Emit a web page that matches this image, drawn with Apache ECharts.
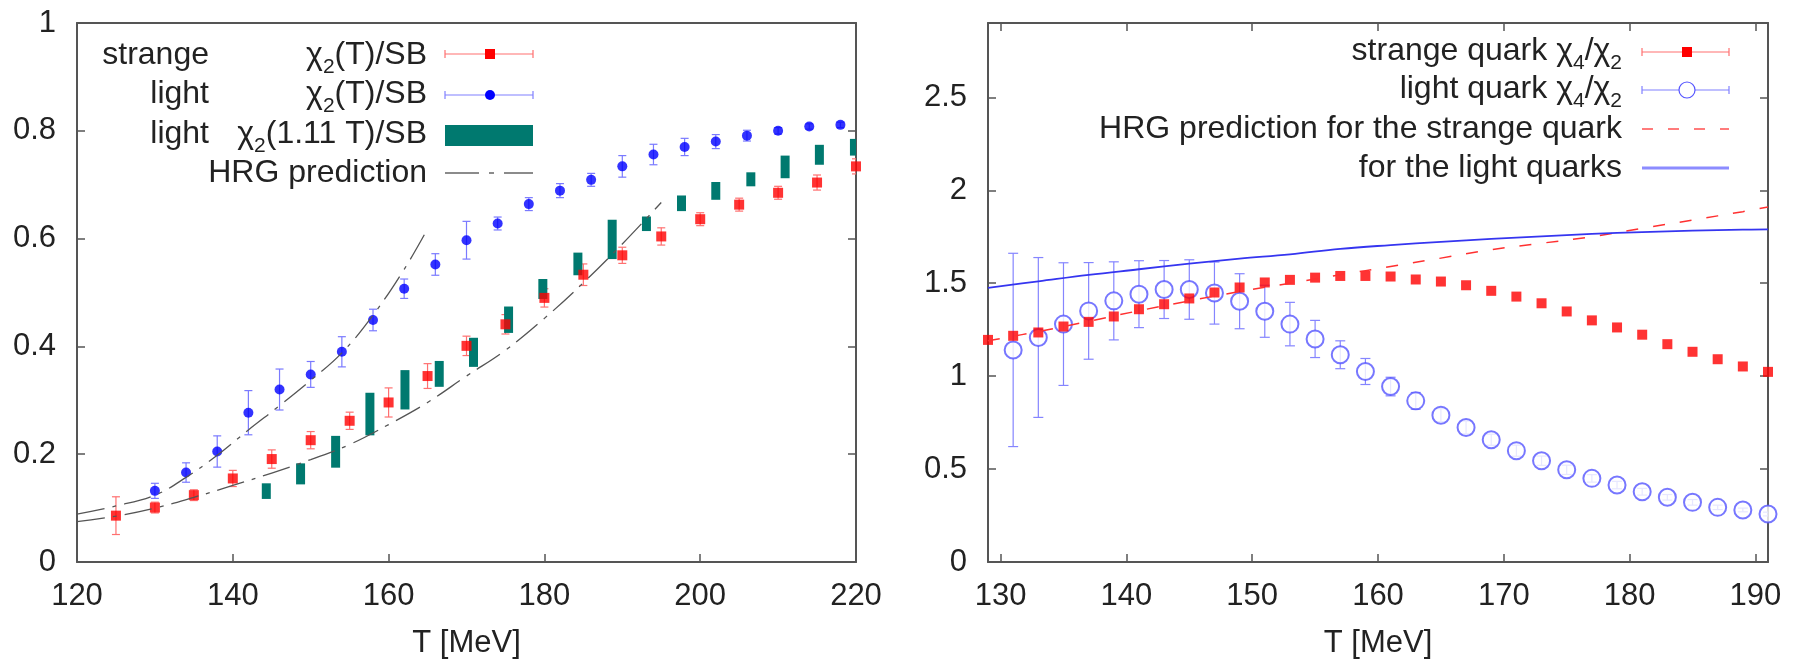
<!DOCTYPE html>
<html><head><meta charset="utf-8">
<script src="https://cdn.jsdelivr.net/npm/echarts@6/dist/echarts.min.js"></script>
<style>html,body{margin:0;padding:0;background:#fff}#c{width:1802px;height:664px}</style>
</head><body><div id="c"></div>
<script>
// ---------- Left panel: chi2/SB ----------
const strangeT = [125,130,135,140,145,150,155,160,165,170,175,180,185,190,195,200,205,210,215,220];
const strangeChi2 = [0.086,0.101,0.124,0.155,0.191,0.226,0.262,0.296,0.345,0.401,0.441,0.490,0.533,0.569,0.604,0.636,0.663,0.685,0.704,0.734];
const strangeChi2Err = [0.035,0.010,0.010,0.015,0.017,0.016,0.016,0.027,0.023,0.018,0.018,0.017,0.020,0.015,0.016,0.012,0.012,0.012,0.014,0.014];

const lightT = [130,134,138,142,146,150,154,158,162,166,170,174,178,182,186,190,194,198,202,206,210,214,218];
const lightChi2 = [0.132,0.166,0.205,0.277,0.320,0.348,0.390,0.449,0.507,0.552,0.597,0.628,0.664,0.689,0.709,0.734,0.756,0.770,0.780,0.791,0.800,0.808,0.811];
const lightChi2Err = [0.014,0.018,0.029,0.041,0.038,0.024,0.028,0.020,0.018,0.020,0.035,0.012,0.012,0.013,0.012,0.020,0.019,0.016,0.013,0.010,0.006,0.005,0.005];

const scaledT = [144.3,148.7,153.2,157.6,162.1,166.5,170.9,175.4,179.8,184.3,188.7,193.1,197.6,202.0,206.5,210.9,215.3,219.8];
const scaledLow = [0.117,0.144,0.175,0.235,0.283,0.325,0.362,0.425,0.488,0.532,0.562,0.614,0.651,0.672,0.697,0.712,0.737,0.754];
const scaledHigh = [0.146,0.183,0.234,0.314,0.356,0.373,0.416,0.474,0.525,0.574,0.635,0.641,0.680,0.705,0.723,0.754,0.774,0.785];

const hrgLightT = [120,125,130,134,138,142,146,150,154,158,162,165];
const hrgLight = [0.089,0.104,0.124,0.157,0.198,0.245,0.290,0.337,0.388,0.458,0.543,0.618];
const hrgStrangeT = [120,125,130,135,140,145,150,155,160,165,170,175,180,185,190,195];
const hrgStrange = [0.075,0.085,0.100,0.120,0.142,0.165,0.190,0.218,0.255,0.296,0.345,0.393,0.452,0.518,0.590,0.667];

const leftXTicks = [120,140,160,180,200,220];
const leftYTicks = [0,0.2,0.4,0.6,0.8,1];

// ---------- Right panel: chi4/chi2 ----------
const rStrangeT = [129,131,133,135,137,139,141,143,145,147,149,151,153,155,157,159,161,163,165,167,169,171,173,175,177,179,181,183,185,187,189,191];
const rStrange = [1.195,1.217,1.235,1.267,1.292,1.321,1.360,1.387,1.418,1.450,1.477,1.504,1.518,1.530,1.539,1.539,1.536,1.520,1.509,1.489,1.459,1.428,1.392,1.348,1.300,1.262,1.223,1.172,1.131,1.091,1.052,1.023];

const rLightT = [131,133,135,137,139,141,143,145,147,149,151,153,155,157,159,161,163,165,167,169,171,173,175,177,179,181,183,185,187,189,191];
const rLight = [1.141,1.208,1.280,1.351,1.405,1.441,1.466,1.466,1.447,1.403,1.349,1.280,1.200,1.115,1.025,0.944,0.867,0.790,0.724,0.658,0.599,0.545,0.496,0.450,0.414,0.378,0.348,0.321,0.294,0.280,0.258];
const rLightErr = [0.52,0.43,0.33,0.26,0.21,0.18,0.156,0.16,0.167,0.148,0.14,0.117,0.10,0.075,0.07,0.05,0.045,0.035,0.035,0.03,0.03,0.025,0.025,0.02,0.02,0.018,0.015,0.015,0.012,0.01,0.01];

const rHrgT = [129,133,137,141,145,149,153,157,161,165,169,173,177,181,185,189,191];
const rHrgStrange = [1.19,1.24,1.295,1.352,1.405,1.455,1.50,1.545,1.59,1.635,1.68,1.715,1.75,1.795,1.84,1.885,1.91];
const rHrgLight = [1.475,1.51,1.545,1.575,1.605,1.632,1.655,1.685,1.705,1.722,1.738,1.752,1.765,1.775,1.783,1.788,1.79];

const rightXTicks = [130,140,150,160,170,180,190];
const rightYTicks = [0,0.5,1,1.5,2,2.5];

// ---------- helpers ----------
const FONT = "'Liberation Sans', Arial, Helvetica, sans-serif";
const TXT = '#222';
const AX = '#555';
const zip2 = (a, b) => a.map((v, i) => [v, b[i]]);
const zip3 = (a, b, c) => a.map((v, i) => [v, b[i], c[i]]);

function mkX(gi, min, max, ticks, position, labels, ticksOn, name) {
  return {
    type: 'value', gridIndex: gi, min: min, max: max, position: position,
    axisLine: {show: true, onZero: false, lineStyle: {color: AX, width: 2}},
    axisTick: {show: ticksOn, inside: true, length: 8, customValues: ticks, lineStyle: {color: AX, width: 1.5}},
    axisLabel: {show: labels, customValues: ticks, margin: 19, fontSize: 31, color: TXT, fontFamily: FONT},
    splitLine: {show: false},
    name: name || '', nameLocation: 'middle', nameGap: 66,
    nameTextStyle: {fontSize: 31, color: TXT, fontFamily: FONT}
  };
}
function mkY(gi, min, max, ticks, position, labels) {
  return {
    type: 'value', gridIndex: gi, min: min, max: max, position: position,
    axisLine: {show: true, onZero: false, lineStyle: {color: AX, width: 2}},
    axisTick: {show: true, inside: true, length: 8, customValues: ticks, lineStyle: {color: AX, width: 1.5}},
    axisLabel: {show: labels, customValues: ticks, margin: 21, fontSize: 31, color: TXT, fontFamily: FONT},
    splitLine: {show: false}
  };
}
function errSeries(xi, yi, data, color, capHalf) {
  return {
    type: 'custom', xAxisIndex: xi, yAxisIndex: yi, clip: true,
    encode: {x: 0, y: 1},
    data: data,
    renderItem: function (params, api) {
      const x = api.value(0), y = api.value(1), e = api.value(2);
      const t = api.coord([x, y + e]), b = api.coord([x, y - e]);
      const st = {stroke: color, lineWidth: 1.2};
      return {type: 'group', children: [
        {type: 'line', shape: {x1: t[0], y1: t[1], x2: b[0], y2: b[1]}, style: st},
        {type: 'line', shape: {x1: t[0] - capHalf, y1: t[1], x2: t[0] + capHalf, y2: t[1]}, style: st},
        {type: 'line', shape: {x1: b[0] - capHalf, y1: b[1], x2: b[0] + capHalf, y2: b[1]}, style: st}
      ]};
    }
  };
}

// ---------- legends (graphic) ----------
const rich = {
  c: {fontSize: 32, fontFamily: FONT, fill: TXT},
  s: {fontSize: 21, fontFamily: FONT, fill: TXT, padding: [24, 0, 0, 0]}
};
function txt(x, y, text) {
  return {type: 'text', x: x, y: y, z: 100,
    style: {text: text, rich: rich, fontSize: 32, fontFamily: FONT, fill: TXT, align: 'right', verticalAlign: 'middle'}};
}
function hline(x1, x2, y, color, w, dash) {
  return {type: 'line', z: 100, shape: {x1: x1, y1: y, x2: x2, y2: y},
    style: {stroke: color, lineWidth: w, lineDash: dash || null}};
}
function vline(x, y, h, color) {
  return {type: 'line', z: 100, shape: {x1: x, y1: y - h, x2: x, y2: y + h}, style: {stroke: color, lineWidth: 1.2}};
}
const LS1 = 445, LS2 = 533, LSM = 490;
const RS1 = 1642, RS2 = 1729, RSM = 1687;
const graphics = [
  // left legend
  txt(209, 55, 'strange'), txt(427, 55, '{c|χ}{s|2}(T)/SB'),
  txt(209, 94, 'light'), txt(427, 94, '{c|χ}{s|2}(T)/SB'),
  txt(209, 134, 'light'), txt(427, 134, '{c|χ}{s|2}(1.11 T)/SB'),
  txt(427, 173, 'HRG prediction'),
  hline(LS1, LS2, 54, '#ff7070', 1.2), vline(LS1, 54, 4, '#ff7070'), vline(LS2, 54, 4, '#ff7070'),
  {type: 'rect', z: 101, shape: {x: LSM - 5, y: 49, width: 10, height: 10}, style: {fill: '#ff0000'}},
  hline(LS1, LS2, 95, '#8080ff', 1.2), vline(LS1, 95, 4, '#8080ff'), vline(LS2, 95, 4, '#8080ff'),
  {type: 'circle', z: 101, shape: {cx: LSM, cy: 95, r: 5}, style: {fill: '#0000ff'}},
  {type: 'rect', z: 100, shape: {x: LS1, y: 125, width: LS2 - LS1, height: 21}, style: {fill: '#00796f'}},
  hline(LS1, LS2, 173, '#666', 1.3, [34, 10, 5, 10]),
  // right legend
  txt(1622, 51, 'strange quark {c|χ}{s|4}/{c|χ}{s|2}'),
  txt(1622, 89, 'light quark {c|χ}{s|4}/{c|χ}{s|2}'),
  txt(1622, 129, 'HRG prediction for the strange quark'),
  txt(1622, 168, 'for the light quarks'),
  hline(RS1, RS2, 52, '#ff7070', 1.2), vline(RS1, 52, 4, '#ff7070'), vline(RS2, 52, 4, '#ff7070'),
  {type: 'rect', z: 101, shape: {x: RSM - 5, y: 47, width: 10, height: 10}, style: {fill: '#ff0000'}},
  hline(RS1, RSM - 8, 90, '#8080ff', 1.2), hline(RSM + 8, RS2, 90, '#8080ff', 1.2),
  vline(RS1, 90, 4, '#8080ff'), vline(RS2, 90, 4, '#8080ff'),
  {type: 'circle', z: 101, shape: {cx: RSM, cy: 90, r: 8}, style: {fill: 'none', stroke: '#5555ff', lineWidth: 1.2}},
  hline(RS1, RS2, 129, '#ff5050', 1.4, [11, 15]),
  hline(RS1, RS2, 168, '#8c8cff', 3)
];

const option = {
  animation: false,
  backgroundColor: '#ffffff',
  textStyle: {fontFamily: FONT},
  grid: [
    {left: 77, top: 23, width: 779, height: 540},
    {left: 988, top: 23, width: 780, height: 540}
  ],
  xAxis: [
    mkX(0, 120, 220, leftXTicks, 'bottom', true, true, 'T [MeV]'),
    mkX(0, 120, 220, leftXTicks, 'top', false, false, ''),
    mkX(1, 129, 191, rightXTicks, 'bottom', true, true, 'T [MeV]'),
    mkX(1, 129, 191, rightXTicks, 'top', false, true, '')
  ],
  yAxis: [
    mkY(0, 0, 1, leftYTicks, 'left', true),
    mkY(0, 0, 1, leftYTicks, 'right', false),
    mkY(1, 0, 2.9, rightYTicks, 'left', true),
    mkY(1, 0, 2.9, rightYTicks, 'right', false)
  ],
  series: [
    // left
    errSeries(0, 0, zip3(strangeT, strangeChi2, strangeChi2Err), '#ff7070', 4),
    {type: 'scatter', xAxisIndex: 0, yAxisIndex: 0, symbol: 'rect', symbolSize: 10,
      itemStyle: {color: '#ff0000'}, data: zip2(strangeT, strangeChi2)},
    errSeries(0, 0, zip3(lightT, lightChi2, lightChi2Err), '#7a7aff', 4),
    {type: 'scatter', xAxisIndex: 0, yAxisIndex: 0, symbol: 'circle', symbolSize: 10,
      itemStyle: {color: '#0000ff'}, data: zip2(lightT, lightChi2)},
    {type: 'custom', xAxisIndex: 0, yAxisIndex: 0, clip: true, encode: {x: 0, y: [1, 2]},
      data: zip3(scaledT, scaledLow, scaledHigh),
      renderItem: function (params, api) {
        const x = api.value(0);
        const hi = api.coord([x, api.value(2)]), lo = api.coord([x, api.value(1)]);
        return {type: 'rect', shape: {x: hi[0] - 4.5, y: hi[1], width: 9, height: lo[1] - hi[1]},
          style: {fill: '#00796f'}};
      }},
    {type: 'line', xAxisIndex: 0, yAxisIndex: 0, showSymbol: false, smooth: 0.4, clip: true,
      lineStyle: {color: '#555', width: 1.3, type: [28, 8, 4, 8]}, data: zip2(hrgLightT, hrgLight)},
    {type: 'line', xAxisIndex: 0, yAxisIndex: 0, showSymbol: false, smooth: 0.4, clip: true,
      lineStyle: {color: '#555', width: 1.3, type: [28, 8, 4, 8]}, data: zip2(hrgStrangeT, hrgStrange)},
    // right
    {type: 'line', xAxisIndex: 2, yAxisIndex: 2, showSymbol: false, smooth: 0.4, clip: true,
      lineStyle: {color: '#ff3030', width: 1.5, type: [12, 15]}, data: zip2(rHrgT, rHrgStrange)},
    {type: 'line', xAxisIndex: 2, yAxisIndex: 2, showSymbol: false, smooth: 0.4, clip: true,
      lineStyle: {color: '#3535f0', width: 1.8}, data: zip2(rHrgT, rHrgLight)},
    errSeries(2, 2, zip3(rLightT, rLight, rLightErr), '#8585ff', 5),
    {type: 'scatter', xAxisIndex: 2, yAxisIndex: 2, symbol: 'emptyCircle', symbolSize: 17,
      itemStyle: {color: '#5555ff', borderColor: '#5555ff', borderWidth: 1.2}, data: zip2(rLightT, rLight)},
    {type: 'scatter', xAxisIndex: 2, yAxisIndex: 2, symbol: 'rect', symbolSize: 10,
      itemStyle: {color: '#ff0000'}, data: zip2(rStrangeT, rStrange)}
  ],
  graphic: graphics
};

const chart = echarts.init(document.getElementById('c'), null, {renderer: 'canvas'});
chart.setOption(option);
</script>
</body></html>
